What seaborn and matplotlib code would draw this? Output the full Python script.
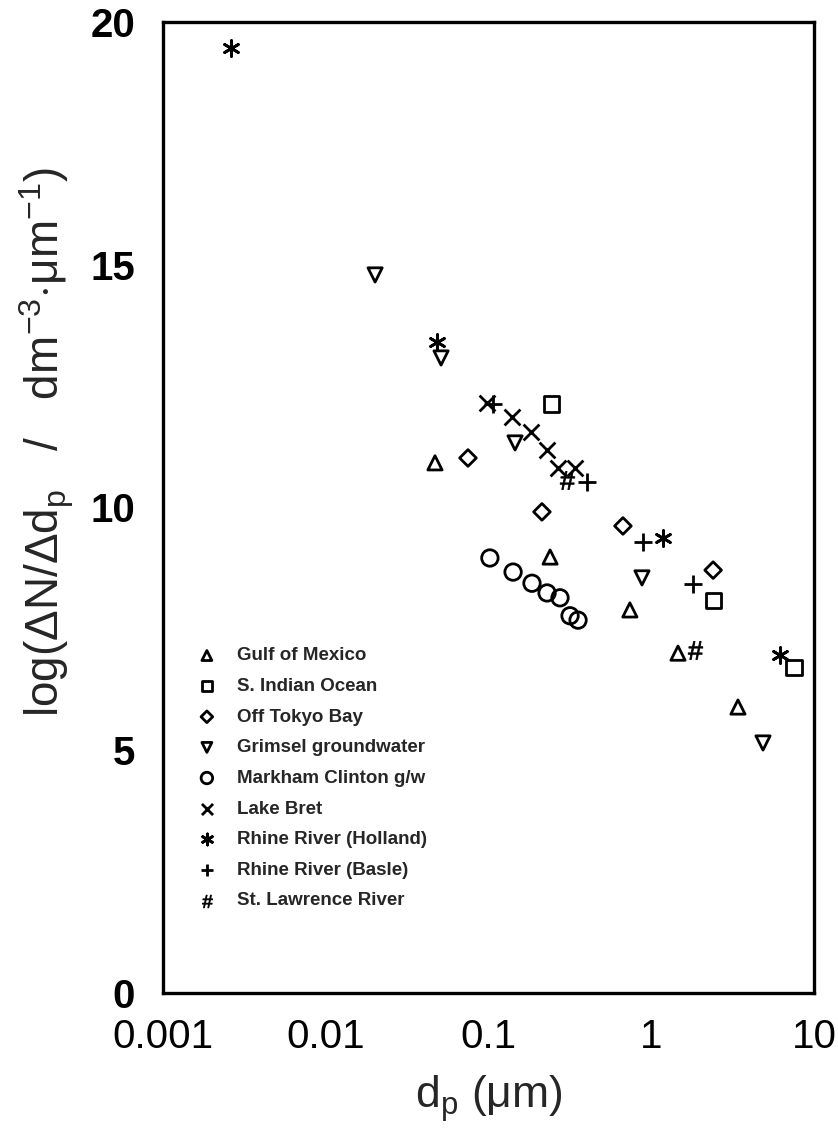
import matplotlib
matplotlib.use("Agg")
import matplotlib.pyplot as plt
import seaborn as sns
import pandas as pd
from matplotlib.ticker import FixedLocator, FixedFormatter, NullLocator

# ---------------- data ----------------
series_names = ["Gulf of Mexico", "S. Indian Ocean", "Off Tokyo Bay",
                "Grimsel groundwater", "Markham Clinton g/w", "Lake Bret",
                "Rhine River (Holland)", "Rhine River (Basle)", "St. Lawrence River"]

gulf_x = [0.0469, 0.239, 0.739, 1.46, 3.41]
gulf_y = [10.92, 8.98, 7.89, 7.00, 5.89]

indian_x = [0.245, 2.40, 7.54]
indian_y = [12.13, 8.09, 6.71]

tokyo_x = [0.0748, 0.213, 0.670, 2.40]
tokyo_y = [11.02, 9.91, 9.62, 8.71]

grimsel_x = [0.0201, 0.0511, 0.1456, 0.877, 4.86]
grimsel_y = [14.79, 13.08, 11.33, 8.55, 5.15]

markham_x = [0.102, 0.1416, 0.185, 0.229, 0.275, 0.317, 0.355]
markham_y = [8.96, 8.67, 8.44, 8.24, 8.14, 7.77, 7.68]

bret_x = [0.098, 0.139, 0.182, 0.229, 0.267, 0.340]
bret_y = [12.15, 11.86, 11.56, 11.18, 10.81, 10.81]

holland_x = [0.00262, 0.0483, 1.18, 6.18]
holland_y = [19.46, 13.41, 9.37, 6.96]

basle_x = [0.107, 0.403, 0.889, 1.81]
basle_y = [12.13, 10.53, 9.29, 8.42]

lawrence_x = [0.303, 1.86]
lawrence_y = [10.57, 7.06]

x_ticks = [0.001, 0.01, 0.1, 1, 10]
x_tick_labels = ["0.001", "0.01", "0.1", "1", "10"]
y_ticks = [0, 5, 10, 15, 20]
y_tick_labels = ["0", "5", "10", "15", "20"]

all_x = [gulf_x, indian_x, tokyo_x, grimsel_x, markham_x, bret_x,
         holland_x, basle_x, lawrence_x]
all_y = [gulf_y, indian_y, tokyo_y, grimsel_y, markham_y, bret_y,
         holland_y, basle_y, lawrence_y]

frames = []
for name, xs, ys in zip(series_names, all_x, all_y):
    frames.append(pd.DataFrame({"dp": xs, "logN": ys, "site": name}))
df = pd.concat(frames, ignore_index=True)

# ---------------- styling ----------------
sns.set_theme(style="white")
plt.rcParams["font.family"] = ["Liberation Sans", "DejaVu Sans"]
plt.rcParams["mathtext.fontset"] = "custom"
plt.rcParams["mathtext.rm"] = "Liberation Sans"
plt.rcParams["mathtext.it"] = "Liberation Sans:italic"
plt.rcParams["mathtext.bf"] = "Liberation Sans:bold"

marker_specs = {
    "Gulf of Mexico": dict(marker="^", s=105, kind="open"),
    "S. Indian Ocean": dict(marker="s", s=120, kind="open"),
    "Off Tokyo Bay": dict(marker="D", s=72, kind="open"),
    "Grimsel groundwater": dict(marker="v", s=105, kind="open"),
    "Markham Clinton g/w": dict(marker="o", s=140, kind="open"),
    "Lake Bret": dict(marker="x", s=130, kind="line"),
    "Rhine River (Holland)": dict(marker=(6, 2, 0), s=130, kind="line"),
    "Rhine River (Basle)": dict(marker="+", s=150, kind="line"),
    "St. Lawrence River": dict(marker=r"$\#$", s=170, kind="glyph"),
}

fig = plt.figure(figsize=(8.38, 11.32), dpi=100)
ax = fig.add_axes([163 / 838, 1 - 993 / 1132, (814 - 163) / 838, (993 - 22) / 1132])

for name in series_names:
    sub = df[df["site"] == name]
    spec = marker_specs[name]
    if spec["kind"] == "open":
        sns.scatterplot(data=sub, x="dp", y="logN", marker=spec["marker"], s=spec["s"],
                        facecolors="none", edgecolor="black", linewidth=2.0,
                        label=name, ax=ax, legend=False)
    elif spec["kind"] == "line":
        sns.scatterplot(data=sub, x="dp", y="logN", marker=spec["marker"], s=spec["s"],
                        color="black", linewidth=2.0, label=name, ax=ax, legend=False)
    else:
        sns.scatterplot(data=sub, x="dp", y="logN", marker=spec["marker"], s=spec["s"],
                        color="black", edgecolor="black", linewidth=0.6,
                        label=name, ax=ax, legend=False)

ax.set_xscale("log")
ax.set_xlim(0.001, 10)
ax.set_ylim(0, 20)
ax.xaxis.set_major_locator(FixedLocator(x_ticks))
ax.xaxis.set_major_formatter(FixedFormatter(x_tick_labels))
ax.xaxis.set_minor_locator(NullLocator())
ax.yaxis.set_major_locator(FixedLocator(y_ticks))
ax.yaxis.set_major_formatter(FixedFormatter(y_tick_labels))

for sp in ax.spines.values():
    sp.set_visible(True)
    sp.set_color("black")
    sp.set_linewidth(2.4)

ax.tick_params(axis="both", which="major", direction="in", length=9, width=2,
               color="black", labelcolor="black")
ax.tick_params(axis="x", labelsize=29, pad=18)
ax.tick_params(axis="y", labelsize=29, pad=20)
for lbl in ax.get_yticklabels():
    lbl.set_fontweight("bold")

ax.set_xlabel(r"d$_\mathrm{p}$ ($\mathrm{\mu}$m)", fontsize=32, labelpad=12)
ax.set_ylabel(r"log($\Delta$N/$\Delta$d$_\mathrm{p}$   /   dm$^{\mathrm{-3}}$$\cdot$$\mathrm{\mu}$m$^{\mathrm{-1}}$)",
              fontsize=33)
ax.yaxis.set_label_coords(-0.133, 0.567)
ax.grid(False)

handles, labels = ax.get_legend_handles_labels()
leg = ax.legend(handles, labels, loc="upper left", bbox_to_anchor=(0.053, 0.356),
                frameon=False, borderpad=0, borderaxespad=0, handlelength=1.0,
                handletextpad=1.1, labelspacing=0.72, markerscale=0.7,
                prop={"family": "Liberation Sans", "weight": "bold", "size": 13.5})

fig.savefig("out.png", dpi=100)
